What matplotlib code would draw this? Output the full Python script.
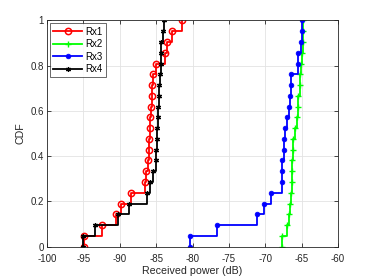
import numpy as np
import matplotlib
matplotlib.use("Agg")
import matplotlib.pyplot as plt

# received power samples (dB), sorted
rx1 = [-94.9, -92.4, -90.6, -89.9, -88.5, -86.5, -86.4, -86.15, -86.05, -85.95,
       -85.85, -85.8, -85.7, -85.6, -85.55, -85.45, -85.1, -83.8, -83.5, -82.9, -81.4]
rx2 = [-67.75, -67.05, -66.8, -66.6, -66.5, -66.35, -66.35, -66.3, -66.25, -66.15,
       -65.9, -65.7, -65.55, -65.45, -65.3, -65.2, -65.1, -65.0, -64.85, -64.85, -64.85]
rx3 = [-80.4, -76.7, -71.2, -70.2, -69.2, -67.75, -67.65, -67.65, -67.5, -67.4,
       -67.3, -67.05, -66.75, -66.6, -66.5, -66.5, -65.55, -65.45, -65.15, -65.0, -64.9]
rx4 = [-95.1, -93.4, -90.2, -88.8, -86.3, -85.9, -85.45, -85.0, -85.0, -84.95,
       -84.85, -84.8, -84.7, -84.65, -84.6, -84.5, -84.4, -84.35, -84.3, -84.05, -83.95]

labels = ["Rx1", "Rx2", "Rx3", "Rx4"]
xticks = [-100, -95, -90, -85, -80, -75, -70, -65, -60]
yticks = [0, 0.2, 0.4, 0.6, 0.8, 1]
ytick_labels = ["0", "0.2", "0.4", "0.6", "0.8", "1"]


def ecdf(samples):
    """MATLAB-style ecdf: first x repeated, F starting at 0."""
    s = np.sort(np.asarray(samples, dtype=float))
    n = len(s)
    x = np.concatenate([[s[0]], s])
    f = np.concatenate([[0.0], np.arange(1, n + 1) / n])
    return x, f


styles = [
    dict(color="#ff0000", marker="o", mfc="none", ms=4.5, mew=1.1),
    dict(color="#00ff00", marker="+", ms=4.5, mew=1.0),
    dict(color="#0000ff", marker="o", mfc="#0000ff", ms=3.4, mew=0.5),
    dict(color="#000000", marker=(6, 2, 0), ms=3.6, mew=0.9),
]

plt.rcParams["font.family"] = ["Liberation Sans", "DejaVu Sans"]
fig = plt.figure(figsize=(3.74, 2.80), dpi=100)
ax = fig.add_axes([0.126, 0.119, 0.778, 0.808])

for data, lab, st in zip([rx1, rx2, rx3, rx4], labels, styles):
    x, f = ecdf(data)
    ax.step(x, f, where="post", lw=1.3, label=lab, **st)

ax.set_xlim(-100, -60)
ax.set_ylim(0, 1)
ax.set_xticks(xticks)
ax.set_xticklabels([str(t) for t in xticks])
ax.set_yticks(yticks)
ax.set_yticklabels(ytick_labels)
ax.tick_params(direction="in", length=3, width=0.6, labelsize=7,
               top=True, right=True, colors="#262626")
ax.tick_params(axis="x", pad=5)
ax.tick_params(axis="y", pad=2.5)
ax.grid(True, color="#e3e3e3", lw=0.6)
ax.set_axisbelow(True)
for sp in ax.spines.values():
    sp.set_color("#262626")
    sp.set_linewidth(0.6)

ax.set_xlabel("Received power (dB)", fontsize=7.7, color="#262626", labelpad=1.5)
ax.set_ylabel("CDF", fontsize=7.7, color="#262626", labelpad=3)

leg = ax.legend(loc="upper left", fontsize=7, frameon=True, fancybox=False,
                borderpad=0.35, labelspacing=0.25, handlelength=2.9,
                handletextpad=0.4, borderaxespad=0.3)
leg.get_frame().set_edgecolor("#262626")
leg.get_frame().set_linewidth(0.6)

fig.savefig("out.png", dpi=100)
